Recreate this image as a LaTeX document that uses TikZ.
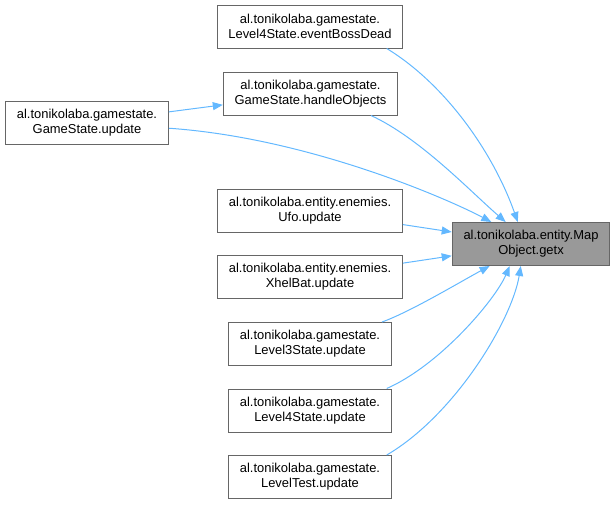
\documentclass[tikz,border=0pt]{standalone}
\usepackage{fontspec}
\setmainfont{Liberation Sans}
\usepackage{tikz}
\usepackage{xcolor}
\usetikzlibrary{arrows.meta,positioning}
\definecolor{edgeblue}{RGB}{99, 184, 255}
\definecolor{boxline}{RGB}{102, 102, 102}
\definecolor{focus}{RGB}{153, 153, 153}
\tikzstyle{arrow} = [
    line width=0.75pt,
    draw=edgeblue,
    -{Triangle[length=7.5pt,width=6pt,fill=edgeblue]}
]
\tikzstyle{func} = [
    rectangle,
    draw=boxline,
    line width=0.75pt,
    fill=white,
    inner xsep=8.5pt,
    minimum height=32.25pt,
    align=center,
    font=\fontsize{9.7}{11.25}\selectfont
]

\begin{document}
\begin{tikzpicture}[x=0.75pt, y=-0.75pt]
    \useasboundingbox (0,0) rectangle (616,504);
    % callee
    \node[func, fill=focus] (getx) at (531,244) {al.tonikolaba.entity.Map\\Object.getx};
    % callers
    \node[func] (bossdead) at (310,26.5) {al.tonikolaba.gamestate.\\Level4State.eventBossDead};
    \node[func] (handle) at (310.5,93.5) {al.tonikolaba.gamestate.\\GameState.handleObjects};
    \node[func] (gsupdate) at (87,122.5) {al.tonikolaba.gamestate.\\GameState.update};
    \node[func] (ufo) at (310,210.5) {al.tonikolaba.entity.enemies.\\Ufo.update};
    \node[func] (xhelbat) at (310,277) {al.tonikolaba.entity.enemies.\\XhelBat.update};
    \node[func] (level3) at (310,344) {al.tonikolaba.gamestate.\\Level3State.update};
    \node[func] (level4) at (310,410.5) {al.tonikolaba.gamestate.\\Level4State.update};
    \node[func] (leveltest) at (310,477) {al.tonikolaba.gamestate.\\LevelTest.update};
    % edges
    \draw[arrow] (gsupdate) -- (handle);
    \draw[arrow] (bossdead.-16) .. controls (445,84) and (493,152) .. (getx.121);
    \draw[arrow] (handle.-20) .. controls (420,138) and (471,192) .. (getx.139);
    \draw[arrow] (gsupdate.-4.5) .. controls (310,138) and (450,200) .. (getx.151);
    \draw[arrow] (ufo) -- (getx);
    \draw[arrow] (xhelbat) -- (getx);
    \draw[arrow] (level3.17.6) .. controls (410,312) and (460,282) .. (getx.208);
    \draw[arrow] (level4.16.4) .. controls (440,365) and (495,300) .. (getx.226);
    \draw[arrow] (leveltest.16) .. controls (455,415) and (512,320) .. (getx.245.6);
\end{tikzpicture}
\end{document}
